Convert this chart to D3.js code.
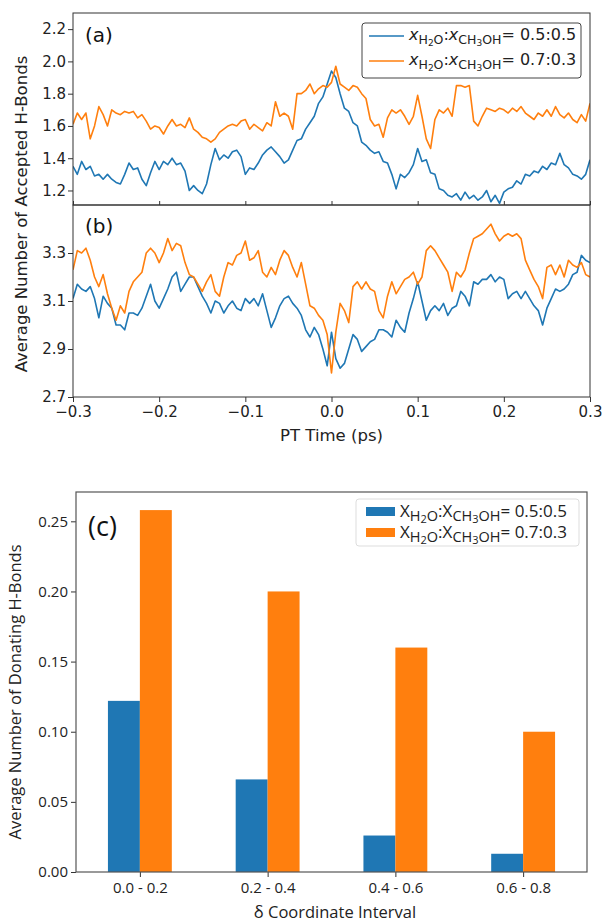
<!DOCTYPE html>
<html>
<head>
<meta charset="utf-8">
<script src="https://cdn.jsdelivr.net/npm/d3@7"></script>
<style>
  body { margin: 0; background: #fff; }
</style>
</head>
<body>
<div id="container"></div>
<script>
// time axis of panels (a) and (b)
var timeStart = -0.3;
var timeStep = 0.005;
var timeTicks = [-0.3, -0.2, -0.1, 0.0, 0.1, 0.2, 0.3];

// (a) average number of accepted H-bonds
var accepted05 = [1.35,1.30,1.38,1.33,1.35,1.29,1.30,1.27,1.30,1.27,
  1.25,1.24,1.30,1.37,1.33,1.34,1.27,1.23,1.31,1.38,
  1.33,1.38,1.36,1.40,1.36,1.37,1.32,1.20,1.23,1.20,
  1.18,1.24,1.36,1.46,1.39,1.42,1.40,1.44,1.45,1.41,
  1.30,1.34,1.33,1.37,1.42,1.45,1.47,1.44,1.41,1.37,
  1.39,1.45,1.51,1.52,1.58,1.62,1.66,1.74,1.78,1.86,
  1.94,1.90,1.80,1.71,1.69,1.62,1.60,1.50,1.48,1.45,
  1.43,1.44,1.38,1.37,1.30,1.21,1.30,1.28,1.31,1.36,
  1.46,1.38,1.39,1.31,1.30,1.21,1.20,1.17,1.16,1.18,
  1.14,1.19,1.15,1.17,1.14,1.16,1.20,1.13,1.17,1.12,
  1.19,1.21,1.22,1.26,1.24,1.30,1.29,1.32,1.31,1.35,
  1.33,1.37,1.36,1.43,1.36,1.34,1.30,1.29,1.27,1.30,
  1.39];
var accepted07 = [1.61,1.68,1.64,1.68,1.52,1.60,1.72,1.67,1.60,1.70,
  1.68,1.67,1.69,1.68,1.69,1.65,1.67,1.63,1.58,1.60,
  1.59,1.55,1.60,1.64,1.60,1.61,1.59,1.65,1.58,1.56,
  1.53,1.52,1.50,1.52,1.56,1.58,1.60,1.61,1.60,1.63,
  1.64,1.58,1.61,1.59,1.57,1.62,1.60,1.75,1.66,1.68,
  1.66,1.58,1.80,1.80,1.82,1.86,1.80,1.83,1.85,1.84,
  1.87,1.97,1.86,1.84,1.82,1.85,1.84,1.80,1.77,1.64,
  1.60,1.61,1.53,1.65,1.70,1.68,1.70,1.66,1.61,1.66,
  1.79,1.66,1.52,1.46,1.64,1.70,1.68,1.71,1.66,1.85,
  1.85,1.84,1.85,1.63,1.60,1.66,1.71,1.70,1.69,1.71,
  1.70,1.68,1.71,1.69,1.72,1.68,1.66,1.64,1.68,1.66,
  1.70,1.66,1.72,1.67,1.65,1.68,1.64,1.62,1.67,1.63,
  1.74];
var acceptedTicks = [1.2, 1.4, 1.6, 1.8, 2.0, 2.2];

// (b) total H-bonds
var total05 = [3.11,3.17,3.15,3.14,3.16,3.11,3.03,3.12,3.09,3.07,
  3.00,3.00,2.98,3.05,3.05,3.04,3.07,3.12,3.17,3.10,
  3.07,3.11,3.15,3.20,3.22,3.14,3.17,3.20,3.20,3.16,
  3.12,3.09,3.05,3.10,3.09,3.05,3.08,3.10,3.07,3.06,
  3.11,3.09,3.11,3.08,3.13,3.06,2.99,3.03,3.08,3.11,
  3.12,3.09,3.07,3.04,2.98,2.95,2.99,2.96,2.90,2.83,
  2.97,2.86,2.82,2.84,2.90,2.96,2.94,2.89,2.91,2.93,
  2.94,2.98,2.98,2.97,2.95,3.02,2.99,2.97,3.05,3.11,
  3.18,3.10,3.02,3.06,3.08,3.06,3.09,3.04,3.07,3.08,
  3.14,3.12,3.08,3.18,3.17,3.19,3.19,3.21,3.18,3.20,
  3.19,3.11,3.13,3.14,3.11,3.14,3.11,3.08,3.06,3.00,
  3.07,3.11,3.15,3.14,3.15,3.17,3.21,3.22,3.29,3.27,
  3.26];
var total07 = [3.23,3.31,3.30,3.32,3.27,3.20,3.16,3.21,3.13,3.07,
  3.02,3.08,3.05,3.14,3.18,3.20,3.22,3.30,3.32,3.30,
  3.26,3.30,3.36,3.31,3.34,3.33,3.26,3.21,3.20,3.17,
  3.14,3.18,3.21,3.14,3.12,3.20,3.26,3.25,3.29,3.30,
  3.35,3.27,3.28,3.31,3.22,3.20,3.24,3.21,3.27,3.31,
  3.29,3.24,3.20,3.26,3.17,3.08,3.07,3.04,3.02,2.96,
  2.80,2.97,3.09,3.06,3.01,3.16,3.18,3.15,3.18,3.15,
  3.14,3.06,3.03,3.12,3.18,3.13,3.16,3.19,3.20,3.22,
  3.17,3.20,3.31,3.33,3.31,3.28,3.25,3.22,3.14,3.22,
  3.20,3.23,3.30,3.36,3.37,3.38,3.40,3.42,3.38,3.35,
  3.37,3.38,3.37,3.38,3.36,3.27,3.23,3.19,3.16,3.11,
  3.24,3.25,3.21,3.25,3.20,3.27,3.25,3.24,3.26,3.21,
  3.20];
var totalTicks = [2.7, 2.9, 3.1, 3.3];

// (c) donating H-bonds per delta interval
var intervals = ["0.0 - 0.2", "0.2 - 0.4", "0.4 - 0.6", "0.6 - 0.8"];
var donating05 = [0.122, 0.066, 0.026, 0.013];
var donating07 = [0.258, 0.200, 0.160, 0.100];
var donatingTicks = [0.00, 0.05, 0.10, 0.15, 0.20, 0.25];

var BLUE = "#1f77b4", ORANGE = "#ff7f0e";
var DJ = "DejaVu Sans", OS = "'Open Sans', 'Noto Sans', sans-serif";

const svg = d3.select("#container")
  .append("svg")
    .attr("width", 605)
    .attr("height", 923)
    .style("display", "block");

function series(vals) {
  return vals.map((v, i) => ({t: timeStart + i * timeStep, v: v}));
}

// shared x scale for (a) and (b)
const x = d3.scaleLinear().domain([-0.3, 0.3]).range([73, 590]);
const ya = d3.scaleLinear().domain([1.11, 2.30]).range([205, 13]);
const yb = d3.scaleLinear().domain([2.7, 3.5]).range([397, 205]);

function styleAxis(g, font, size) {
  g.select(".domain").remove();
  g.selectAll(".tick line").attr("stroke", "#333");
  g.selectAll(".tick text").attr("fill", "#222")
    .style("font-family", font).style("font-size", size + "px");
}

function linePanel(id, y, s05, s07, top, bottom) {
  svg.append("clipPath").attr("id", id)
    .append("rect").attr("x", 73).attr("y", top)
    .attr("width", 517).attr("height", bottom - top);
  var line = d3.line().x(d => x(d.t)).y(d => y(d.v));
  var g = svg.append("g").attr("clip-path", "url(#" + id + ")");
  g.append("path").datum(series(s05)).attr("d", line)
    .attr("fill", "none").attr("stroke", BLUE).attr("stroke-width", 1.6)
    .attr("stroke-linejoin", "round");
  g.append("path").datum(series(s07)).attr("d", line)
    .attr("fill", "none").attr("stroke", ORANGE).attr("stroke-width", 1.6)
    .attr("stroke-linejoin", "round");
}

linePanel("clipA", ya, accepted05, accepted07, 13, 205);
linePanel("clipB", yb, total05, total07, 205, 397);

// y axes
svg.append("g").attr("transform", "translate(73,0)")
  .call(d3.axisLeft(ya).tickValues(acceptedTicks).tickFormat(d3.format(".1f")).tickSize(5).tickPadding(2))
  .call(g => styleAxis(g, DJ, 15));
svg.append("g").attr("transform", "translate(73,0)")
  .call(d3.axisLeft(yb).tickValues(totalTicks).tickFormat(d3.format(".1f")).tickSize(5).tickPadding(2))
  .call(g => styleAxis(g, DJ, 15));

// x axes
svg.append("g").attr("transform", "translate(0,205)")
  .call(d3.axisTop(x).tickValues(timeTicks).tickFormat("").tickSize(4))
  .call(g => styleAxis(g, DJ, 15));
svg.append("g").attr("transform", "translate(0,397)")
  .call(d3.axisBottom(x).tickValues(timeTicks).tickFormat(d3.format(".1f")).tickSize(5).tickPadding(4))
  .call(g => styleAxis(g, DJ, 15));

// frames
[[13, 205], [205, 397]].forEach(p => {
  svg.append("rect").attr("x", 73).attr("y", p[0]).attr("width", 517).attr("height", p[1] - p[0])
    .attr("fill", "none").attr("stroke", "#333").attr("stroke-width", 1);
});

svg.append("text").attr("x", 85).attr("y", 42).text("(a)")
  .style("font-family", DJ).style("font-size", "20px").attr("fill", "#111");
svg.append("text").attr("x", 85).attr("y", 233).text("(b)")
  .style("font-family", DJ).style("font-size", "20px").attr("fill", "#111");

svg.append("text")
  .attr("transform", "translate(27,214) rotate(-90)")
  .attr("text-anchor", "middle")
  .text("Average Number of Accepted H-Bonds")
  .style("font-family", DJ).style("font-size", "16.5px").attr("fill", "#222");
svg.append("text")
  .attr("x", 331.5).attr("y", 441)
  .attr("text-anchor", "middle")
  .text("PT Time (ps)")
  .style("font-family", DJ).style("font-size", "16.5px").attr("fill", "#222");

// legend text: x_{H2O}:x_{CH3OH}= r
function ratioText(sel, X, italic, ratio, big, sub, subsub, font) {
  var parts = [
    [X, big, 0, italic], ["H", sub, 4, false], ["2", subsub, 6, false], ["O", sub, 4, false],
    [":", big, 0, false], [X, big, 0, italic], ["CH", sub, 4, false], ["3", subsub, 6, false],
    ["OH", sub, 4, false], ["= " + ratio, big, 0, false]
  ];
  var prev = 0;
  parts.forEach(p => {
    sel.append("tspan").text(p[0])
      .attr("dy", p[2] - prev)
      .style("font-size", p[1] + "px")
      .style("font-style", p[3] ? "italic" : "normal");
    prev = p[2];
  });
  sel.style("font-family", font).attr("fill", "#222");
}

// legend (a)
svg.append("rect").attr("x", 362).attr("y", 23).attr("width", 219).attr("height", 55)
  .attr("rx", 3).attr("fill", "#fff").attr("stroke", "#444").attr("stroke-width", 1);
[[BLUE, "0.5:0.5", 36], [ORANGE, "0.7:0.3", 61]].forEach(r => {
  svg.append("line").attr("x1", 369).attr("x2", 404).attr("y1", r[2]).attr("y2", r[2])
    .attr("stroke", r[0]).attr("stroke-width", 1.6);
  svg.append("text").attr("x", 409).attr("y", r[2] + 4)
    .call(t => ratioText(t, "x", true, r[1], 16, 12.5, 9, DJ));
});

// ---- panel (c) bars
const xc = d3.scaleLinear().domain([-0.5, 3.5]).range([76, 587]);
const yc = d3.scaleLinear().domain([0, 0.2709]).range([872, 492]);
const bw = 0.25;

svg.append("g").selectAll("rect")
  .data(donating05)
  .join("rect")
    .attr("x", (d, i) => xc(i - bw))
    .attr("y", d => yc(d))
    .attr("width", (d, i) => xc(i) - xc(i - bw))
    .attr("height", d => yc(0) - yc(d))
    .attr("fill", BLUE);
svg.append("g").selectAll("rect")
  .data(donating07)
  .join("rect")
    .attr("x", (d, i) => xc(i))
    .attr("y", d => yc(d))
    .attr("width", (d, i) => xc(i + bw) - xc(i))
    .attr("height", d => yc(0) - yc(d))
    .attr("fill", ORANGE);

svg.append("g").attr("transform", "translate(76,0)")
  .call(d3.axisLeft(yc).tickValues(donatingTicks).tickFormat(d3.format(".2f")).tickSize(5).tickPadding(3))
  .call(g => styleAxis(g, OS, 15));
svg.append("g").attr("transform", "translate(0,872)")
  .call(d3.axisBottom(xc).tickValues(d3.range(intervals.length)).tickFormat(i => intervals[i]).tickSize(5).tickPadding(5))
  .call(g => styleAxis(g, OS, 15));

svg.append("rect").attr("x", 76).attr("y", 492).attr("width", 511).attr("height", 380)
  .attr("fill", "none").attr("stroke", "#555").attr("stroke-width", 1.2);

svg.append("text").attr("x", 88).attr("y", 536).text("(c)")
  .style("font-family", OS).style("font-size", "27px").attr("fill", "#111");

svg.append("text")
  .attr("transform", "translate(21,692) rotate(-90)")
  .attr("text-anchor", "middle")
  .text("Average Number of Donating H-Bonds")
  .style("font-family", OS).style("font-size", "16.5px").attr("fill", "#222");
svg.append("text")
  .attr("x", 335).attr("y", 918)
  .attr("text-anchor", "middle")
  .text("\u03b4 Coordinate Interval")
  .style("font-family", OS).style("font-size", "16.5px").attr("fill", "#222");

// legend (c)
svg.append("rect").attr("x", 356).attr("y", 499).attr("width", 223).attr("height", 47)
  .attr("rx", 3).attr("fill", "#fff").attr("stroke", "#ddd").attr("stroke-width", 1);
[[BLUE, "0.5:0.5", 507], [ORANGE, "0.7:0.3", 528]].forEach(r => {
  svg.append("rect").attr("x", 366).attr("y", r[2]).attr("width", 29).attr("height", 9)
    .attr("fill", r[0]);
  svg.append("text").attr("x", 400).attr("y", r[2] + 10)
    .call(t => ratioText(t, "X", false, r[1], 17, 14.5, 11, OS));
});
</script>
</body>
</html>
